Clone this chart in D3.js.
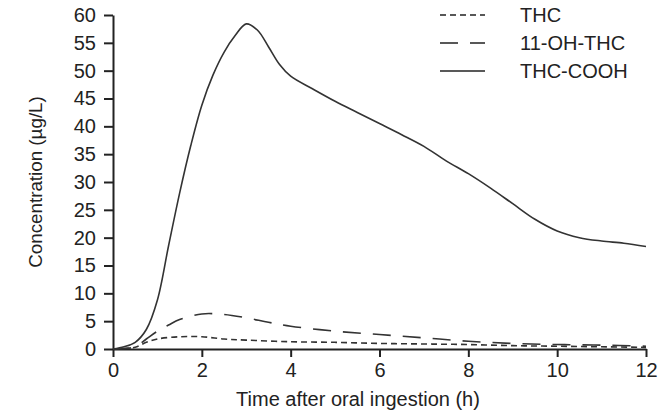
<!DOCTYPE html>
<html>
<head>
<meta charset="utf-8">
<script src="https://cdn.jsdelivr.net/npm/d3@7"></script>
<style>
  body { margin: 0; background: #fff; }
  text { font-family: "Liberation Sans", Arial, sans-serif; fill: #222; }
</style>
</head>
<body>
<div id="chart"></div>
<script>
// time points (h) and concentrations (µg/L)
var coohTime = [0, 0.25, 0.5, 0.75, 1, 1.25, 1.5, 1.75, 2, 2.25, 2.5, 2.75, 3, 3.25, 3.5, 3.75, 4, 4.5, 5, 5.5, 6, 6.5, 7, 7.5, 8, 8.5, 9, 9.5, 10, 10.5, 11, 11.5, 12];
var coohConc = [0, 0.4, 1.2, 3.5, 8.8, 18.5, 28, 36.5, 43.8, 49.2, 53.3, 56.3, 58.4, 57.3, 54.3, 51.1, 49, 46.7, 44.5, 42.5, 40.5, 38.5, 36.4, 33.8, 31.5, 28.9, 26.1, 23.3, 21.2, 20, 19.4, 19, 18.4];

var ohTime = [0, 0.25, 0.5, 0.75, 1, 1.25, 1.5, 2, 2.5, 3, 3.5, 4, 5, 6, 7, 8, 9, 10, 11, 12];
var ohConc = [0, 0.1, 0.4, 1.8, 3.2, 4.3, 5.3, 6.3, 6.2, 5.6, 4.8, 4.1, 3.2, 2.6, 2.0, 1.4, 1.0, 0.8, 0.7, 0.5];

var thcTime = [0, 0.25, 0.5, 0.75, 1, 1.5, 2, 2.5, 3, 4, 5, 6, 7, 8, 9, 10, 11, 12];
var thcConc = [0, 0.1, 0.3, 1.2, 1.8, 2.2, 2.2, 1.8, 1.6, 1.3, 1.2, 1.0, 0.9, 0.8, 0.6, 0.5, 0.4, 0.3];

var xTicks = [0, 2, 4, 6, 8, 10, 12];
var yTicks = [0, 5, 10, 15, 20, 25, 30, 35, 40, 45, 50, 55, 60];

var seriesNames = ["THC", "11-OH-THC", "THC-COOH"];
var dashes = ["6,4", "18,12", null];

var margin = {top: 15, right: 16, bottom: 66, left: 113},
    width = 662 - margin.left - margin.right,
    height = 415 - margin.top - margin.bottom;

var svg = d3.select("#chart")
  .append("svg")
    .attr("width", 662)
    .attr("height", 415)
  .append("g")
    .attr("transform", "translate(" + margin.left + "," + margin.top + ")");

var x = d3.scaleLinear().domain([0, 12]).range([0, width]);
var y = d3.scaleLinear().domain([0, 60]).range([height, 0]);

var xAxis = svg.append("g")
  .attr("transform", "translate(0," + height + ")")
  .call(d3.axisBottom(x).tickValues(xTicks).tickSize(8).tickSizeOuter(0).tickPadding(6));

var yAxis = svg.append("g")
  .call(d3.axisLeft(y).tickValues(yTicks).tickSize(9).tickSizeOuter(0).tickPadding(8));

[xAxis, yAxis].forEach(function(ax) {
  ax.select(".domain").attr("stroke", "#222").attr("stroke-width", 2);
  ax.selectAll(".tick line").attr("stroke", "#222").attr("stroke-width", 2);
  ax.selectAll(".tick text").style("font-size", "20px").attr("fill", "#222");
});

svg.append("text")
  .attr("x", 358 - margin.left)
  .attr("y", height + 57)
  .attr("text-anchor", "middle")
  .style("font-size", "20px")
  .text("Time after oral ingestion (h)");

svg.append("text")
  .attr("transform", "rotate(-90)")
  .attr("x", -(182 - margin.top))
  .attr("y", -78)
  .attr("dy", "0.35em")
  .attr("text-anchor", "middle")
  .style("font-size", "18.8px")
  .text("Concentration (µg/L)");

var line = d3.line()
  .curve(d3.curveCatmullRom.alpha(0.5))
  .x(function(d) { return x(d.t); })
  .y(function(d) { return y(d.c); });

function pairs(ts, cs) {
  return ts.map(function(t, i) { return {t: t, c: cs[i]}; });
}

var allSeries = [pairs(thcTime, thcConc), pairs(ohTime, ohConc), pairs(coohTime, coohConc)];

allSeries.forEach(function(data, i) {
  svg.append("path")
    .datum(data)
    .attr("fill", "none")
    .attr("stroke", "#333")
    .attr("stroke-width", 1.6)
    .attr("stroke-dasharray", dashes[i])
    .attr("d", line);
});

// legend
var legend = svg.append("g")
  .attr("transform", "translate(" + (440 - margin.left) + "," + (15 - margin.top) + ")");

seriesNames.forEach(function(name, i) {
  var g = legend.append("g").attr("transform", "translate(0," + (i * 28) + ")");
  g.append("line")
    .attr("x1", 0).attr("x2", 45)
    .attr("y1", 0).attr("y2", 0)
    .attr("stroke", "#222")
    .attr("stroke-width", 1.6)
    .attr("stroke-dasharray", dashes[i]);
  g.append("text")
    .attr("x", 80)
    .attr("dy", "0.35em")
    .style("font-size", "20px")
    .text(name);
});
</script>
</body>
</html>
